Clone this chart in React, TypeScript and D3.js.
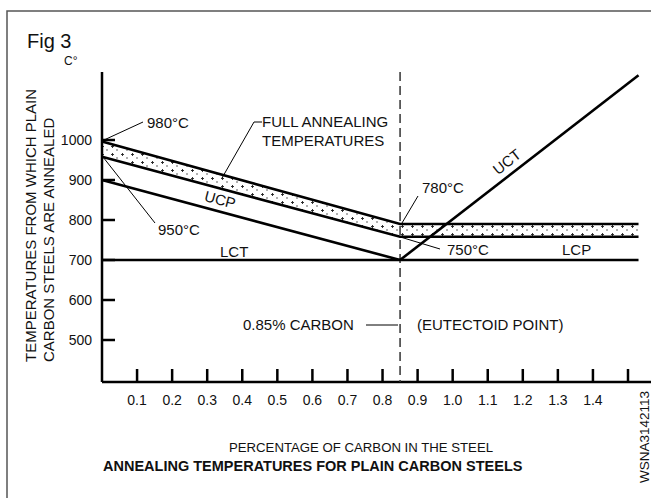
import React from 'react';
import * as d3 from 'd3';

// carbon % (x) and temperature °C (y)
const carbonTicks = [0.1, 0.2, 0.3, 0.4, 0.5, 0.6, 0.7, 0.8, 0.9, 1.0, 1.1, 1.2, 1.3, 1.4, 1.5];
const carbonLabels = ['0.1', '0.2', '0.3', '0.4', '0.5', '0.6', '0.7', '0.8', '0.9', '1.0', '1.1', '1.2', '1.3', '1.4', ''];
const tempTicks = [500, 600, 700, 800, 900, 1000];

type Pt = { c: number; t: number };

const fullAnnealTop: Pt[] = [
  { c: 0, t: 996 },
  { c: 0.85, t: 790 },
  { c: 1.53, t: 790 },
];
const fullAnnealBottom: Pt[] = [
  { c: 0, t: 958 },
  { c: 0.85, t: 758 },
  { c: 1.53, t: 758 },
];
const ucpLine: Pt[] = [
  { c: 0, t: 900 },
  { c: 0.85, t: 700 },
];
const lctLine: Pt[] = [
  { c: 0, t: 700 },
  { c: 1.53, t: 700 },
];
const uctLine: Pt[] = [
  { c: 0.85, t: 700 },
  { c: 1.53, t: 1162 },
];
const eutectoid = 0.85;

const W = 651;
const H = 498;
const FONT = '"Liberation Sans", Arial, Helvetica, sans-serif';

const App: React.FC = () => {
  const x = d3.scaleLinear().domain([0, 1.5]).range([102, 628]);
  const y = d3.scaleLinear().domain([500, 1000]).range([340, 140]);

  const line = d3
    .line<Pt>()
    .x((d) => x(d.c))
    .y((d) => y(d.t));

  const bandPts = [...fullAnnealTop, ...fullAnnealBottom.slice().reverse()];
  const band = line(bandPts) + 'Z';

  const axisBottom = 382;
  const axisTop = 72;
  const slope = Math.atan2(y(ucpLine[1].t) - y(ucpLine[0].t), x(ucpLine[1].c) - x(ucpLine[0].c)) * 180 / Math.PI;
  const uctAngle = Math.atan2(y(uctLine[1].t) - y(uctLine[0].t), x(uctLine[1].c) - x(uctLine[0].c)) * 180 / Math.PI;

  const lbl = { fontFamily: FONT, fontSize: 15, fill: '#111' } as const;

  return (
    <svg width={W} height={H} style={{ position: 'absolute', left: 0, top: 0, background: '#fff' }}>
      <defs>
        <pattern id="dots" patternUnits="userSpaceOnUse" width="10" height="8">
          <path d="M1,2.5 H4 M2.5,1 V4" stroke="#222" strokeWidth="0.9" />
          <circle cx="7" cy="6" r="0.7" fill="#222" />
        </pattern>
      </defs>

      {/* frame */}
      <path d={`M7,${H} V11 H${W}`} fill="none" stroke="#555" strokeWidth={1.5} />

      <text x={27} y={48} style={{ ...lbl, fontSize: 20 }}>Fig 3</text>
      <text x={64} y={65} style={{ ...lbl, fontSize: 12 }}>C°</text>

      {/* y label */}
      <text transform="translate(36,362) rotate(-90)" style={lbl}>TEMPERATURES FROM WHICH PLAIN</text>
      <text transform="translate(54,362) rotate(-90)" style={lbl}>CARBON STEELS ARE ANNEALED</text>

      {/* band fill */}
      <path d={band} fill="url(#dots)" stroke="none" />

      {/* axes */}
      <line x1={x(0)} x2={x(0)} y1={axisTop} y2={axisBottom} stroke="#000" strokeWidth={2.5} />
      <line x1={x(0)} x2={W} y1={axisBottom} y2={axisBottom} stroke="#000" strokeWidth={2.5} />
      {tempTicks.map((t) => (
        <g key={t}>
          <line x1={x(0)} x2={x(0) + 13} y1={y(t)} y2={y(t)} stroke="#000" strokeWidth={2.5} />
          <text x={x(0) - 10} y={y(t) + 5} textAnchor="end" style={{ ...lbl, fontSize: 14 }}>{t}</text>
        </g>
      ))}
      {carbonTicks.map((c, i) => (
        <g key={c}>
          <line x1={x(c)} x2={x(c)} y1={axisBottom} y2={axisBottom - 13} stroke="#000" strokeWidth={2.5} />
          <text x={x(c)} y={405} textAnchor="middle" style={{ ...lbl, fontSize: 14 }}>{carbonLabels[i]}</text>
        </g>
      ))}

      {/* eutectoid dashed */}
      <line
        x1={x(eutectoid)}
        x2={x(eutectoid)}
        y1={axisTop}
        y2={axisBottom}
        stroke="#333"
        strokeWidth={1.5}
        strokeDasharray="9,5"
      />

      {/* curves */}
      {[fullAnnealTop, fullAnnealBottom, ucpLine, lctLine, uctLine].map((d, i) => (
        <path key={i} d={line(d)!} fill="none" stroke="#000" strokeWidth={2.6} />
      ))}

      {/* leaders */}
      <g stroke="#000" strokeWidth={1} fill="none">
        <line x1={104} y1={140} x2={143} y2={122} />
        <line x1={103} y1={157} x2={155} y2={223} />
        <polyline points="262,122 254,122 222,178" />
        <line x1={418} y1={196} x2={402} y2={223} />
        <line x1={397} y1={236} x2={440} y2={249} />
        <line x1={366} y1={325} x2={398} y2={325} />
      </g>

      <text x={147} y={128} style={lbl}>980°C</text>
      <text x={158} y={235} style={lbl}>950°C</text>
      <text x={262} y={127} style={lbl}>FULL ANNEALING</text>
      <text x={262} y={146} style={lbl}>TEMPERATURES</text>
      <text transform={`translate(220,200) rotate(${slope})`} textAnchor="middle" dy="5" style={lbl}>UCP</text>
      <text x={220} y={257} style={lbl}>LCT</text>
      <text x={422} y={193} style={lbl}>780°C</text>
      <text x={447} y={255} style={lbl}>750°C</text>
      <text x={562} y={255} style={lbl}>LCP</text>
      <text transform={`translate(507,162) rotate(${uctAngle})`} textAnchor="middle" dy="5" style={lbl}>UCT</text>
      <text x={243} y={330} style={lbl}>0.85% CARBON</text>
      <text x={417} y={330} style={lbl}>(EUTECTOID POINT)</text>

      <text x={361} y={452} textAnchor="middle" style={{ ...lbl, fontSize: 13.2 }}>PERCENTAGE OF CARBON IN THE STEEL</text>
      <text x={103} y={471} style={{ ...lbl, fontSize: 14.5, fontWeight: 700 }}>ANNEALING TEMPERATURES FOR PLAIN CARBON  STEELS</text>
      <text transform="translate(649,391) rotate(-90)" textAnchor="end" style={{ ...lbl, fontSize: 13.5 }}>WSNA3142113</text>
    </svg>
  );
};

export default App;
